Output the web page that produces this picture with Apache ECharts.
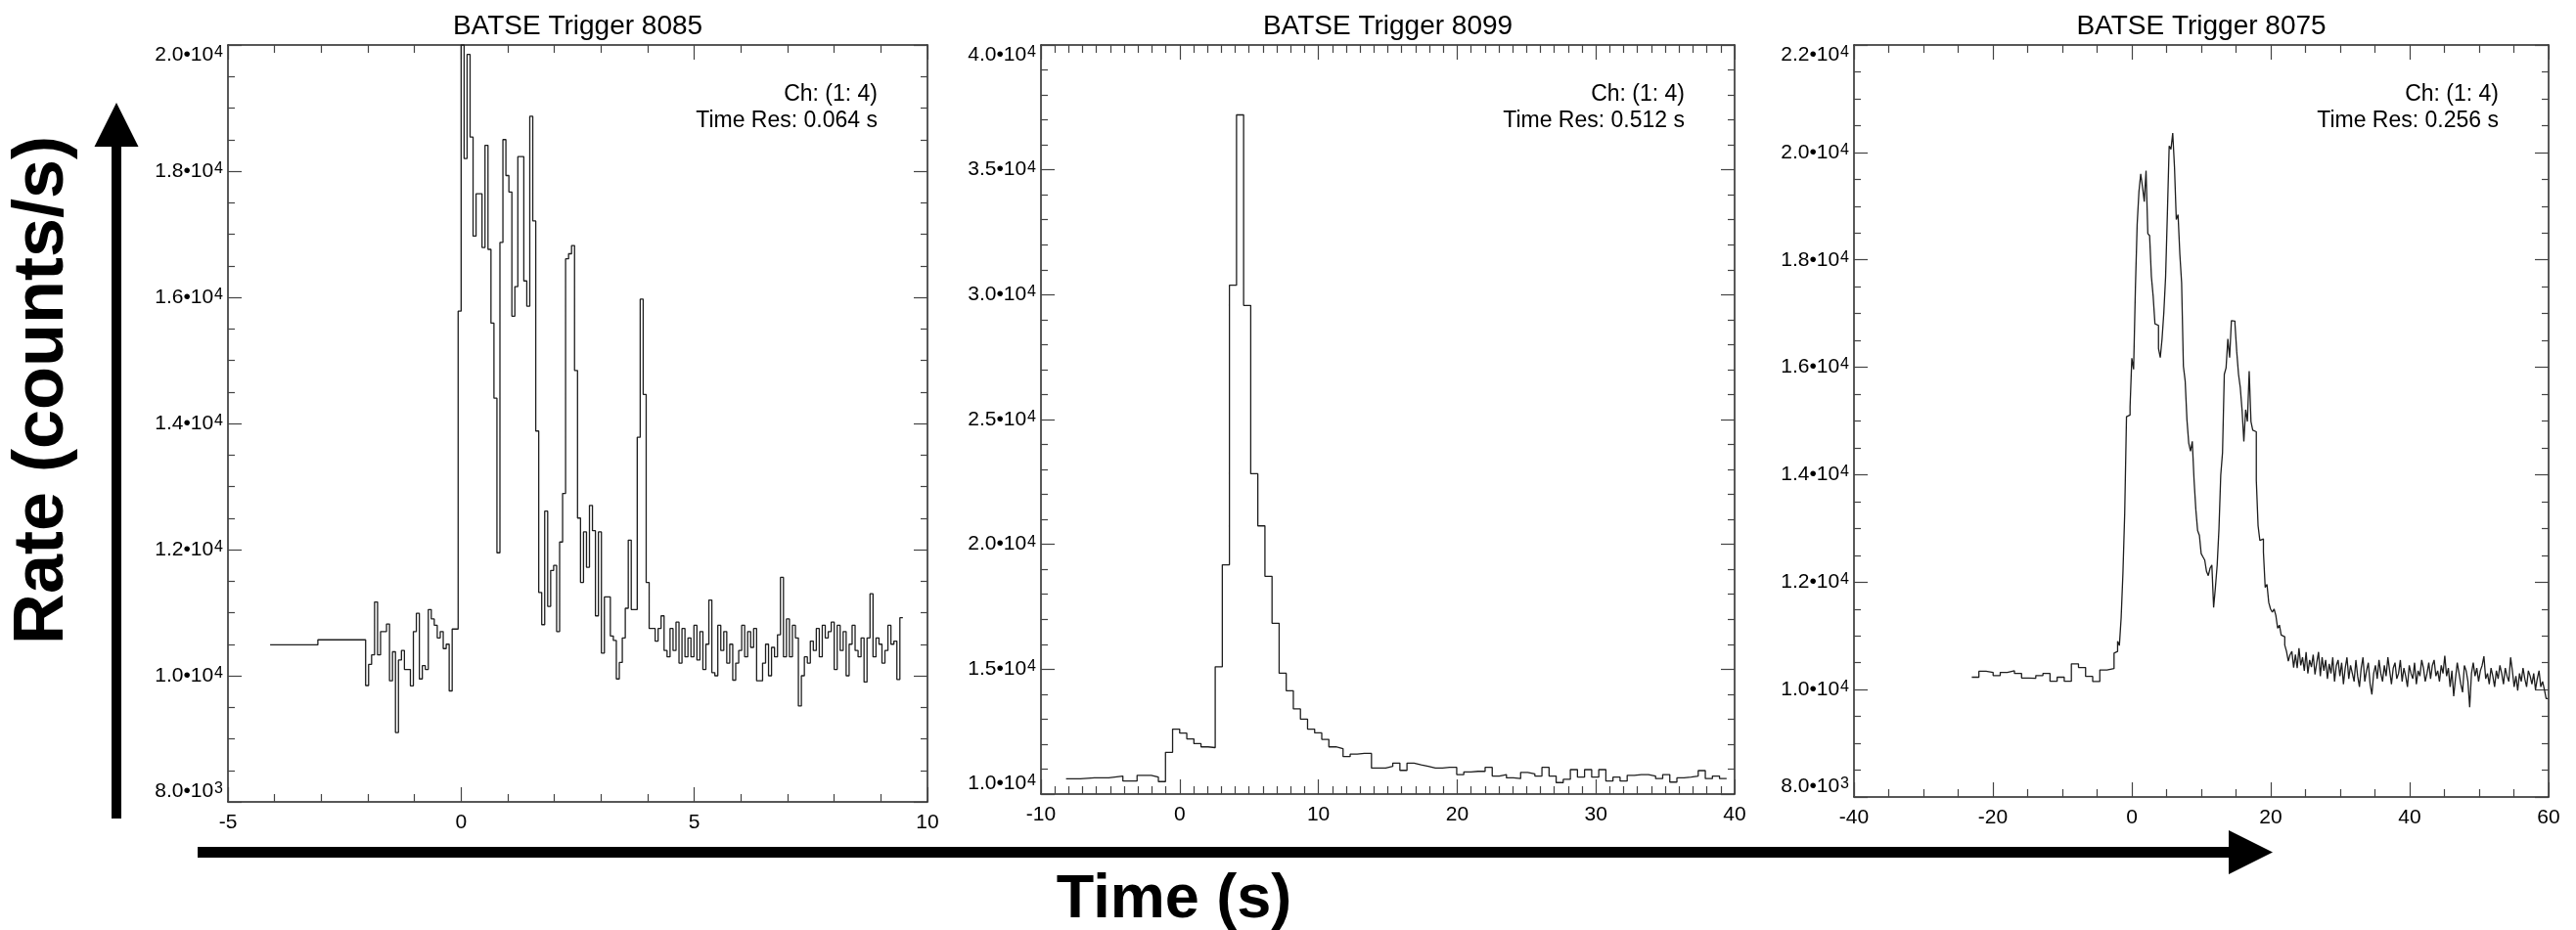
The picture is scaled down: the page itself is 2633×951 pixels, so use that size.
<!DOCTYPE html>
<html><head><meta charset="utf-8">
<script src="https://cdn.jsdelivr.net/npm/echarts@6/dist/echarts.min.js"></script>
<style>html,body{margin:0;padding:0;background:#fff}#c{width:2633px;height:951px}</style>
</head><body><div id="c"></div>
<script>
const FONT = '"Liberation Sans", Arial, Helvetica, sans-serif';

// ---------- texts ----------
const panelTitles = ['BATSE Trigger 8085', 'BATSE Trigger 8099', 'BATSE Trigger 8075'];
const chLabel = 'Ch: (1: 4)';
const timeResLabels = ['Time Res: 0.064 s', 'Time Res: 0.512 s', 'Time Res: 0.256 s'];
const yAxisTitle = 'Rate (counts/s)';
const xAxisTitle = 'Time (s)';

// ---------- axes ----------
const xRanges = [[-5, 10], [-10, 40], [-40, 60]];
const xIntervals = [5, 10, 20];
const xMinorSplits = [5, 10, 4];
const yRanges = [[8000, 20000], [10000, 40000], [8000, 22000]];
const yIntervals = [2000, 5000, 2000];
const yMinorSplits = [4, 5, 4];

// ---------- panel 1 : trigger 8085 ----------
const p1CoarseStart = -4.096, p1CoarseWidth = 1.024;
const p1Coarse = [10490, 10570];
const p1FineStart = -2.048, p1FineWidth = 0.064;
const p1Pre = [9845, 10180, 10330, 11170, 10330, 10700, 10700, 10820, 9920, 10380,
  9100, 10250, 10400, 10100, 10100, 9840, 10700, 10990, 9950, 10160,
  10100, 11050, 10900, 10800, 10600, 10700, 10430, 10500, 9760, 10740,
  10740, 15780];
const p1Burst = [20000, 18200, 19850, 18540, 16970, 17640, 17640, 16790, 18410, 16760,
  15590, 14400, 11950, 16870, 18500, 17930, 17670, 15700, 16170, 18230,
  18230, 16260, 15860, 18870, 17210, 13880, 11320, 10810, 12610, 11100,
  11670, 11750, 10700, 12120, 12890, 16610, 16690, 16820, 14840, 12500,
  11480, 12280, 11720, 12700, 12300, 10950, 12280, 10360, 11250, 11250,
  10630, 10560, 9950, 10210, 10600, 11070, 12150, 11050, 11050, 13780,
  15970, 14460, 11480, 10750, 10750, 10550];
const p1Tail = [10750, 10950, 10400, 10300, 10750, 10400, 10850, 10200, 10750, 10300,
  10600, 10300, 10800, 10250, 10700, 10100, 10500, 11200, 10050, 10000,
  10800, 10400, 10700, 10200, 10500, 9930, 10200, 10400, 10800, 10300,
  10700, 10450, 10750, 9920, 9920, 10200, 10500, 10000, 10450, 10300,
  10650, 11560, 10300, 10900, 10300, 10800, 10600, 9520, 10000, 10300,
  10200, 10550, 10400, 10750, 10300, 10800, 10600, 10700, 10850, 10100,
  10800, 10400, 10700, 10000, 10500, 10800, 10400, 10300, 10600, 9900,
  10600, 11300, 10300, 10600, 10500, 10200, 10400, 10800, 10500, 10550,
  9940, 10920];

// ---------- panel 2 : trigger 8099 ----------
const p2CoarseStart = -8.192, p2CoarseWidth = 1.024;
const p2Coarse = [10610, 10650, 10650, 10720, 10520, 10750];
const p2FineStart = -2.048, p2FineWidth = 0.512;
const p2Fine = [10680, 10500, 11670, 12600, 12440, 12210, 12020, 11890, 11860, 15100,
  19180, 30380, 37200, 29570, 22830, 20740, 18720, 16840, 14840, 14140,
  13410, 13000, 12600, 12450, 12190, 11890, 11820, 11500, 11600, 11630,
  11630, 11040, 11040, 11110, 11240, 10950, 11240, 11170, 11110, 11040,
  11040, 11070, 11070, 10780, 10890, 10910, 10910, 11070, 10720, 10780,
  10650, 10620, 10870, 10810, 10720, 11070, 10720, 10460, 10590, 10980,
  10680, 10980, 10680, 10980, 10520, 10680, 10520, 10750, 10780, 10780,
  10720, 10620, 10780, 10480, 10650, 10680, 10720, 10940, 10620, 10720,
  10620];

// ---------- panel 3 : trigger 8075 ----------
const p3CoarseStart = -23.04, p3CoarseWidth = 1.024;
const p3Coarse = [10230, 10340, 10320, 10260, 10320, 10350, 10300, 10215, 10210, 10260,
  10300, 10155, 10230, 10155, 10480, 10410, 10245, 10150, 10365, 10390];
const p3FineStart = -2.56, p3FineWidth = 0.256;
const p3Burst = [10680, 10710, 10900, 10820, 11340, 12170, 13290, 15080, 15110, 15260,
  16170, 15960, 17460, 18660, 19270, 19600, 19360, 19085, 19660, 18490,
  18450, 17690, 17320, 16810, 16780, 16350, 16180, 16530, 17020, 17690,
  18870, 20120, 20060, 20360, 19720, 18750, 18840, 18110, 17570, 16020,
  15745, 15020, 14590, 14440, 14620, 13900, 13350, 12960, 12870, 12530,
  12470, 12410, 12200, 12120, 12260, 12320, 11530, 11900, 12320, 12990,
  13990, 14410, 15870, 15990, 16530, 16180, 16870, 16860, 16810, 16290,
  15870, 15620, 15200, 14620, 15210, 14990, 15930, 14990, 14830, 14800,
  13900, 13050, 12775, 12805, 12560, 11900, 11960, 11620, 11500, 11440,
  11500, 11380, 11140, 11200, 11015, 10985, 10830, 10710, 10530, 10650,
  10710, 10410];
const p3Tail = [10650, 10400, 10770, 10450, 10600, 10350, 10700, 10300, 10550, 10420,
  10650, 10280, 10500, 10700, 10250, 10600, 10350, 10550, 10200, 10480,
  10300, 10600, 10150, 10450, 10550, 10250, 10500, 10100, 10400, 10600,
  10200, 10450, 10300, 10150, 10550, 10250, 10050, 10400, 10600, 10150,
  10350, 10500, 10100, 9910, 10300, 10450, 10200, 10550, 10300, 10150,
  10450, 10250, 10600, 10350, 10100, 10400, 10500, 10200, 10300, 10550,
  10150, 10400, 10250, 10050, 10450, 10300, 10200, 10500, 10100, 10350,
  10250, 10550, 10400, 10150, 10300, 10500, 10200, 10450, 10550, 10250,
  10350, 10150, 10450, 10300, 10630, 10250, 10400, 10050, 10350, 9875,
  10200, 10500, 10300, 10100, 9950, 10450, 10350, 10150, 9670, 10300,
  10500, 10250, 10400, 10150, 10350, 10450, 10620, 10200, 10300, 10100,
  10400, 10250, 10050, 10350, 10200, 10450, 10300, 10100, 10400, 10250,
  10150, 10600, 10350, 10050, 10250, 9980, 10300, 10150, 10400, 10200,
  10050, 10350, 10250, 10100, 10300, 10000, 10200, 10350, 10050, 10150,
  10000, 9833];

// ---------- build step data (bin left edges + closing edge) ----------
function buildSteps(cStart, cW, coarse, fStart, fW, fine) {
  const pts = [];
  coarse.forEach((v, i) => pts.push([cStart + i * cW, v]));
  fine.forEach((v, i) => pts.push([fStart + i * fW, v]));
  pts.push([fStart + fine.length * fW, fine[fine.length - 1]]);
  return pts;
}
const seriesData = [
  buildSteps(p1CoarseStart, p1CoarseWidth, p1Coarse, p1FineStart, p1FineWidth, p1Pre.concat(p1Burst, p1Tail)),
  buildSteps(p2CoarseStart, p2CoarseWidth, p2Coarse, p2FineStart, p2FineWidth, p2Fine),
  buildSteps(p3CoarseStart, p3CoarseWidth, p3Coarse, p3FineStart, p3FineWidth, p3Burst.concat(p3Tail))
];

// ---------- layout ----------
const grids = [
  {left: 233, top: 46, width: 715, height: 774},
  {left: 1064, top: 46, width: 709, height: 766},
  {left: 1895, top: 46, width: 710, height: 769}
];
const AX = '#222';

function sciLabel(v) {
  const e = Math.floor(Math.log10(v) + 1e-9);
  const m = (v / Math.pow(10, e)).toFixed(1);
  return '{m|' + m + '\u202210}{e|' + e + '}';
}

const xAxes = [], yAxes = [], series = [], graphics = [];
grids.forEach((g, i) => {
  const common = {
    gridIndex: i, type: 'value', min: xRanges[i][0], max: xRanges[i][1], interval: xIntervals[i],
    axisLine: {show: true, onZero: false, lineStyle: {color: AX, width: 1.5}},
    axisTick: {show: true, inside: true, length: 15, lineStyle: {color: '#444', width: 1.2}},
    minorTick: {show: true, splitNumber: xMinorSplits[i], length: 8, lineStyle: {color: '#444', width: 1.2}},
    splitLine: {show: false}, minorSplitLine: {show: false}
  };
  xAxes.push(Object.assign({}, common, {
    position: 'bottom',
    axisLabel: {show: true, fontFamily: FONT, fontSize: 21, color: '#000', margin: 11,
      showMinLabel: true, showMaxLabel: true}
  }));
  xAxes.push(Object.assign({}, common, {position: 'top', axisLabel: {show: false}}));

  const ycommon = {
    gridIndex: i, type: 'value', min: yRanges[i][0], max: yRanges[i][1], interval: yIntervals[i],
    axisLine: {show: true, onZero: false, lineStyle: {color: AX, width: 1.5}},
    axisTick: {show: true, inside: true, length: 14, lineStyle: {color: '#444', width: 1.2}},
    minorTick: {show: true, splitNumber: yMinorSplits[i], length: 7, lineStyle: {color: '#444', width: 1.2}},
    splitLine: {show: false}, minorSplitLine: {show: false}
  };
  yAxes.push(Object.assign({}, ycommon, {
    position: 'left',
    axisLabel: {
      show: true, margin: 5, showMinLabel: true, showMaxLabel: true,
      verticalAlignMinLabel: 'bottom', verticalAlignMaxLabel: 'top',
      formatter: sciLabel,
      rich: {
        m: {fontFamily: FONT, fontSize: 21, color: '#000', lineHeight: 21, verticalAlign: 'bottom'},
        e: {fontFamily: FONT, fontSize: 16, color: '#000', lineHeight: 16, verticalAlign: 'top', padding: [0, 0, 11, 1]}
      }
    }
  }));
  yAxes.push(Object.assign({}, ycommon, {position: 'right', axisLabel: {show: false}}));

  series.push({
    type: 'line', xAxisIndex: 2 * i, yAxisIndex: 2 * i, data: seriesData[i],
    step: 'end', showSymbol: false, symbol: 'none', silent: true,
    lineStyle: {color: '#1e1e1e', width: 1.3}
  });

  const cx = g.left + g.width / 2;
  const right = g.left + g.width - 51;
  graphics.push({type: 'text', style: {text: panelTitles[i], x: cx, y: 27, textAlign: 'center', textVerticalAlign: 'middle',
    font: '28px ' + FONT, fill: '#000'}});
  graphics.push({type: 'text', style: {text: chLabel, x: right, y: 97, textAlign: 'right', textVerticalAlign: 'middle',
    font: '23px ' + FONT, fill: '#000'}});
  graphics.push({type: 'text', style: {text: timeResLabels[i], x: right, y: 124, textAlign: 'right', textVerticalAlign: 'middle',
    font: '23px ' + FONT, fill: '#000'}});
});

// arrows and big axis titles
graphics.push({type: 'rect', shape: {x: 114, y: 146, width: 10, height: 691}, style: {fill: '#000'}});
graphics.push({type: 'polygon', shape: {points: [[119, 105], [96.5, 150], [141.5, 150]]}, style: {fill: '#000'}});
graphics.push({type: 'rect', shape: {x: 202, y: 866, width: 2080, height: 11}, style: {fill: '#000'}});
graphics.push({type: 'polygon', shape: {points: [[2323, 871.5], [2278, 849], [2278, 894]]}, style: {fill: '#000'}});
graphics.push({type: 'text', x: 44, y: 399, rotation: Math.PI / 2,
  style: {text: yAxisTitle, x: 0, y: 0, textAlign: 'center', textVerticalAlign: 'middle',
    font: 'bold 72px ' + FONT, fill: '#000'}});
graphics.push({type: 'text', style: {text: xAxisTitle, x: 1200, y: 921, textAlign: 'center', textVerticalAlign: 'middle',
  font: 'bold 63px ' + FONT, fill: '#000'}});

const chart = echarts.init(document.getElementById('c'), null, {renderer: 'canvas'});
chart.setOption({
  animation: false,
  backgroundColor: '#fff',
  grid: grids.map(g => Object.assign({containLabel: false, outerBoundsMode: 'none'}, g)),
  xAxis: xAxes,
  yAxis: yAxes,
  series: series,
  graphic: graphics
});
</script></body></html>
